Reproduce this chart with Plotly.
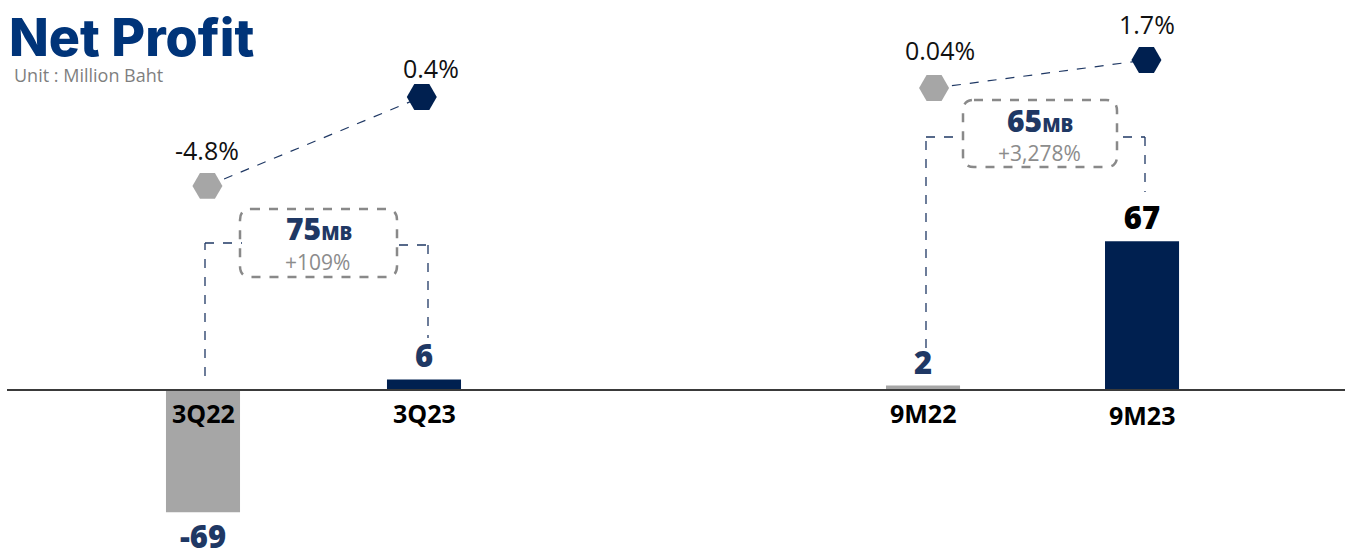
import plotly.graph_objects as go

W, H = 1351, 549

# ---- data ----
left_cats = ["3Q22", "3Q23"]
left_profit = [-69, 6]
left_margin = [-4.8, 0.4]
left_margin_txt = ["-4.8%", "0.4%"]
left_change_mb = "75"
left_change_pct = "+109%"

right_cats = ["9M22", "9M23"]
right_profit = [2, 67]
right_margin = [0.04, 1.7]
right_margin_txt = ["0.04%", "1.7%"]
right_change_mb = "65"
right_change_pct = "+3,278%"

# ---- styles ----
GRAY = "#A6A6A6"
NAVY = "#002050"
TXT_NAVY = "#1F3864"
TITLE_BLUE = "#003479"
BOX_GRAY = "#898989"
FONT = "Open Sans"

# layout positions (in x units)
left_x = [0, 1]
right_x = [3.258, 4.249]
x_range = [-203 / 221, -203 / 221 + W / 221]


def px(x):
    return x / W


def py(y):
    return 1 - y / H


def yrange(scale, zero_px):
    ymax = zero_px / scale
    return [ymax - H / scale, ymax]


fig = go.Figure()

fig.add_trace(go.Bar(
    x=left_x, y=left_profit, yaxis="y", width=0.335,
    marker=dict(color=[GRAY, NAVY], line=dict(width=0)),
    text=[str(v) for v in left_profit], textposition="outside",
    textfont=dict(family=FONT, size=31, color=[TXT_NAVY, TXT_NAVY], weight=800),
    cliponaxis=False,
))
fig.add_trace(go.Bar(
    x=right_x, y=right_profit, yaxis="y2", width=0.335,
    marker=dict(color=[GRAY, NAVY], line=dict(width=0)),
    text=[str(v) for v in right_profit], textposition="outside",
    textfont=dict(family=FONT, size=31, color=[TXT_NAVY, "#000000"], weight=800),
    cliponaxis=False,
))

lm_x = [left_x[0] + 0.02, left_x[1] - 0.01]
rm_x = [right_x[0] + 0.05, right_x[1] + 0.02]
fig.add_trace(go.Scatter(
    x=lm_x, y=left_margin, yaxis="y3",
    mode="lines+markers",
    line=dict(color=TXT_NAVY, width=1.2, dash="dash"),
    marker=dict(symbol="hexagon2", size=30, color=[GRAY, NAVY], line=dict(width=0)),
    cliponaxis=False,
))
fig.add_trace(go.Scatter(
    x=rm_x, y=right_margin, yaxis="y4",
    mode="lines+markers",
    line=dict(color=TXT_NAVY, width=1.2, dash="dash"),
    marker=dict(symbol="hexagon2", size=30, color=[GRAY, NAVY], line=dict(width=0)),
    cliponaxis=False,
))

annotations = []
# margin labels
for xs, ys, txts, yref, dx, dy in [
    (lm_x, left_margin, left_margin_txt, "y3", [0, 9], [36, 29]),
    (rm_x, right_margin, right_margin_txt, "y4", [6, 1], [38, 36]),
]:
    for xv, yv, t, d, e in zip(xs, ys, txts, dx, dy):
        annotations.append(dict(
            x=xv, y=yv, xref="x", yref=yref, text=t, showarrow=False,
            xshift=d, yshift=e, font=dict(family=FONT, size=25, color="#111111"),
        ))

# category labels
for xv, t, s in zip(left_x + right_x, left_cats + right_cats, [-23, -23, -23, -25]):
    annotations.append(dict(
        x=xv, y=0, xref="x", yref="y", text="<b>" + t + "</b>", showarrow=False,
        yshift=s, font=dict(family=FONT, size=25, color="#000000"),
    ))

# title
annotations.append(dict(
    x=px(7), y=py(4), xref="paper", yref="paper", xanchor="left", yanchor="top",
    text="Net Profit", showarrow=False,
    font=dict(family="Inter", size=52, color=TITLE_BLUE, weight=800),
))
annotations.append(dict(
    x=px(12), y=py(61), xref="paper", yref="paper", xanchor="left", yanchor="top",
    text="Unit : Million Baht", showarrow=False,
    font=dict(family=FONT, size=18, color="#7F7F7F"),
))

# change boxes
shapes = []


def rounded_box(x0, y0, x1, y1, r=11):
    p = (f"M {px(x0 + r)},{py(y0)} L {px(x1 - r)},{py(y0)} "
         f"Q {px(x1)},{py(y0)} {px(x1)},{py(y0 + r)} "
         f"L {px(x1)},{py(y1 - r)} Q {px(x1)},{py(y1)} {px(x1 - r)},{py(y1)} "
         f"L {px(x0 + r)},{py(y1)} Q {px(x0)},{py(y1)} {px(x0)},{py(y1 - r)} "
         f"L {px(x0)},{py(y0 + r)} Q {px(x0)},{py(y0)} {px(x0 + r)},{py(y0)} Z")
    return dict(type="path", path=p, xref="paper", yref="paper",
                line=dict(color=BOX_GRAY, width=2.5, dash="dash"))


for (bx0, by0, bx1, by1), mb, pct in [
    ((240, 209, 397, 277), left_change_mb, left_change_pct),
    ((963, 100, 1117, 167), right_change_mb, right_change_pct),
]:
    shapes.append(rounded_box(bx0, by0, bx1, by1))
    cx = (bx0 + bx1) / 2
    annotations.append(dict(
        x=px(cx), y=py(by0 + 20), xref="paper", yref="paper", showarrow=False,
        xanchor="center", yanchor="middle",
        text=f"{mb}<span style='font-size:19px'>MB</span>",
        font=dict(family=FONT, size=30, color=TXT_NAVY, weight=800),
    ))
    annotations.append(dict(
        x=px(cx - 1), y=py(by0 + 53), xref="paper", yref="paper", showarrow=False,
        xanchor="center", yanchor="middle",
        text=pct, font=dict(family=FONT, size=21, color="#8C8C8C"),
    ))

# dashed connectors
CONN = dict(color=TXT_NAVY, width=1.3, dash="dash")
for pts in [
    [(205, 376), (205, 243), (242, 243)],
    [(399, 245), (428, 245), (428, 338)],
    [(926, 348), (926, 137), (955, 137)],
    [(1123, 137), (1145, 137), (1145, 192)],
]:
    for (a, b), (c, d) in zip(pts[:-1], pts[1:]):
        shapes.append(dict(type="line", xref="paper", yref="paper",
                           x0=px(a), y0=py(b), x1=px(c), y1=py(d), line=CONN))

# baseline
shapes.append(dict(type="line", xref="paper", yref="y", x0=px(7), x1=px(1345),
                   y0=0, y1=0, line=dict(color="#3A3A3A", width=2), layer="above"))

hidden = dict(visible=False, showgrid=False, zeroline=False, fixedrange=True)
fig.update_layout(
    width=W, height=H,
    margin=dict(l=0, r=0, t=0, b=0),
    paper_bgcolor="white", plot_bgcolor="white",
    showlegend=False, barmode="overlay",
    xaxis=dict(range=x_range, **hidden),
    yaxis=dict(range=yrange(1.77, 390), **hidden),
    yaxis2=dict(range=yrange(2.22, 390), overlaying="y", **hidden),
    yaxis3=dict(range=yrange(17.1, 103.8), overlaying="y", **hidden),
    yaxis4=dict(range=yrange(16.9, 88.7), overlaying="y", **hidden),
    annotations=annotations, shapes=shapes,
)

fig.write_html("out.html")
